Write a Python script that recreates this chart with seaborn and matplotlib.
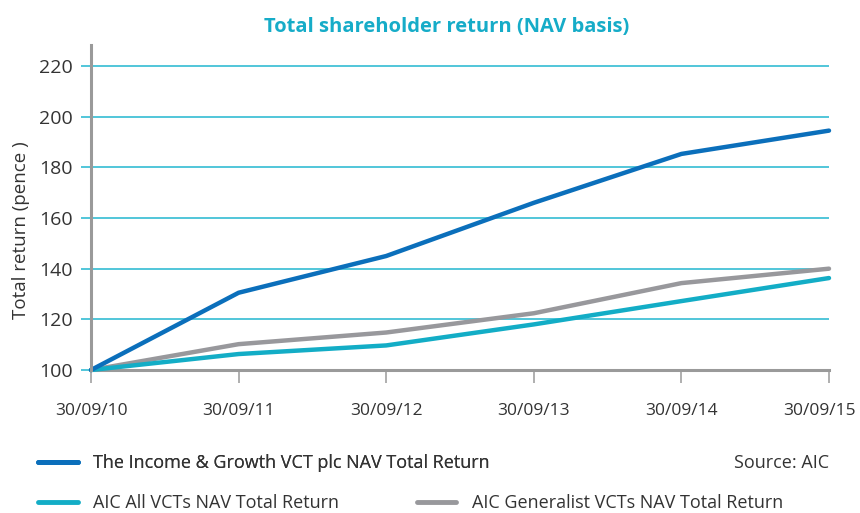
import numpy as np
import pandas as pd
import matplotlib
matplotlib.use("Agg")
import matplotlib.pyplot as plt
import matplotlib.transforms as mtransforms
from matplotlib.lines import Line2D
import seaborn as sns

# values
dates = ["30/09/10", "30/09/11", "30/09/12", "30/09/13", "30/09/14", "30/09/15"]
income_growth = [100, 130.5, 145, 166, 185.3, 194.5]
aic_all = [100, 106.3, 109.7, 118, 127.2, 136.3]
aic_generalist = [100, 110.2, 114.8, 122.4, 134.3, 140]

names = ["The Income & Growth VCT plc NAV Total Return",
         "AIC All VCTs NAV Total Return",
         "AIC Generalist VCTs NAV Total Return"]
colors = ["#0b6fbb", "#13adc6", "#98989c"]
grid_col = "#22b6cf"
axis_col = "#9a9a9a"
text_col = "#333333"

df = pd.DataFrame({
    "x": list(range(len(dates))) * 3,
    "value": income_growth + aic_all + aic_generalist,
    "series": [names[0]] * 6 + [names[1]] * 6 + [names[2]] * 6,
})

sns.set_theme(style="white")
plt.rcParams["font.family"] = ["Open Sans", "DejaVu Sans"]

fig = plt.figure(figsize=(8.6, 5.13), dpi=100)
ax = fig.add_axes([91 / 860, 1 - 370 / 513, (829 - 91) / 860, (370 - 45) / 513])

# grey first so the cyan one sits on top like the original
order = [names[2], names[1], names[0]]
for nm in order:
    sub = df[df.series == nm]
    sns.lineplot(data=sub, x="x", y="value", ax=ax, color=colors[names.index(nm)],
                 linewidth=3.2, legend=False, clip_on=False, solid_capstyle="round")

ax.set_xlim(0, 5)
ax.set_ylim(100, 228.3)
ax.set_yticks([100, 120, 140, 160, 180, 200, 220])
ax.set_xticks(range(len(dates)))
ax.set_xticklabels(dates)
ax.yaxis.grid(True, color=grid_col, linewidth=1.1)
ax.set_axisbelow(True)

for s in ["top", "right"]:
    ax.spines[s].set_visible(False)
for s in ["left", "bottom"]:
    ax.spines[s].set_color(axis_col)
    ax.spines[s].set_linewidth(2.2)
ax.spines["bottom"].set_zorder(1)

ax.tick_params(axis="y", length=7, width=1.1, color=grid_col, pad=6,
               labelsize=14, labelcolor=text_col, left=True)
ax.tick_params(axis="x", direction="out", length=9, width=1.1, color=axis_col,
               pad=15, labelsize=12.5, labelcolor=text_col, bottom=True)
# last date label sits a bit left of its tick in the original
last = ax.get_xticklabels()[-1]
last.set_transform(last.get_transform() +
                   mtransforms.ScaledTranslation(-10 / 100, 0, fig.dpi_scale_trans))

ax.set_xlabel("")
ax.set_ylabel("Total return (pence )", fontsize=13.5, color=text_col)
ax.yaxis.set_label_coords(-0.083, 0.43)

fig.text(447 / 860, 1 - 27 / 513, "Total shareholder return (NAV basis)",
         ha="center", va="center", fontsize=14.5, fontweight="bold", color="#16acc8")

handles = [Line2D([], [], color=c, linewidth=3.5) for c in colors]
leg1 = fig.legend([handles[0]], [names[0]], loc="center left",
                  bbox_to_anchor=(38 / 860, 1 - 463 / 513), frameon=False,
                  fontsize=13, handlelength=2.2, handletextpad=0.85, borderpad=0,
                  borderaxespad=0, labelcolor=text_col)
fig.add_artist(leg1)
fig.legend(handles[1:], names[1:], loc="center left", ncol=2,
           bbox_to_anchor=(38 / 860, 1 - 503 / 513), frameon=False,
           fontsize=13, handlelength=2.2, handletextpad=0.85, borderpad=0,
           borderaxespad=0, columnspacing=4.3, labelcolor=text_col)

fig.text(829 / 860, 1 - 463 / 513, "Source: AIC", ha="right", va="center",
         fontsize=13, color=text_col)

fig.savefig("out.png", dpi=100, facecolor="white")
